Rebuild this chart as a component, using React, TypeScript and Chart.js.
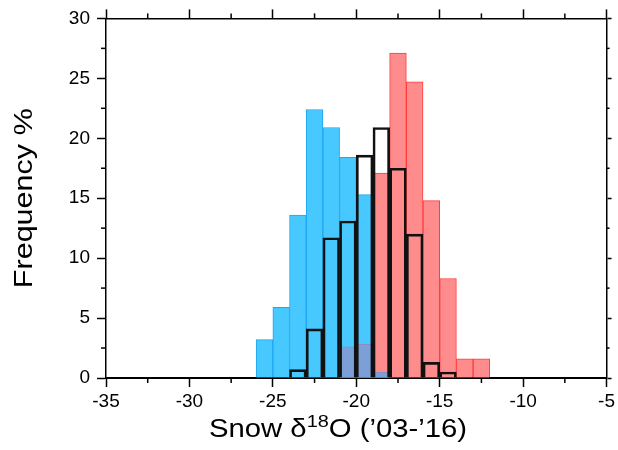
import { useEffect, useRef } from "react";
import { Chart, registerables } from "chart.js";

Chart.register(...registerables);

// ---- data ----
const binStarts = [-26, -25, -24, -23, -22, -21, -20, -19, -18, -17, -16, -15, -14, -13];
const binWidth = 1;
const blueFreq = [3.2, 5.9, 13.6, 22.4, 20.9, 18.4, 15.3, 0.5, 0, 0, 0, 0, 0, 0];
const redFreq = [0, 0, 0, 0, 0, 2.6, 2.8, 17.1, 27.1, 24.7, 14.8, 8.3, 1.6, 1.6];
const blackFreq = [0, 0, 0.7, 4.1, 11.7, 13.1, 18.6, 20.9, 17.5, 12.0, 1.3, 0.5, 0, 0];
const xTicks = [-35, -30, -25, -20, -15, -10, -5];
const yTicks = [0, 5, 10, 15, 20, 25, 30];
const yTitle = "Frequency %";
const xTitleParts = ["Snow δ", "18", "O (\u201903-\u201916)"];

const FONT = '"Liberation Sans", Arial, Helvetica, sans-serif';

const toPoints = (vals: number[]) =>
  binStarts.map((b, i) => ({ x: b + binWidth / 2, y: vals[i] > 0 ? vals[i] : null }));

const overlapFreq = blueFreq.map((b, i) => (b > 0 && redFreq[i] > 0 ? Math.min(b, redFreq[i]) : 0));

const decorPlugin = {
  id: "decor",
  afterDraw(chart: any) {
    const { ctx, chartArea: a, scales } = chart;
    ctx.save();
    ctx.strokeStyle = "#000";
    ctx.lineWidth = 1.5;
    const line = (x1: number, y1: number, x2: number, y2: number) => {
      ctx.beginPath();
      ctx.moveTo(x1, y1);
      ctx.lineTo(x2, y2);
      ctx.stroke();
    };
    for (let i = 0; i < xTicks.length - 1; i++) {
      const px = scales.x.getPixelForValue((xTicks[i] + xTicks[i + 1]) / 2);
      line(px, a.bottom, px, a.bottom + 5);
      line(px, a.top, px, a.top - 5);
    }
    for (let i = 0; i < yTicks.length - 1; i++) {
      const py = scales.y.getPixelForValue((yTicks[i] + yTicks[i + 1]) / 2);
      line(a.left, py, a.left - 5, py);
      line(a.right, py, a.right + 3, py);
    }
    ctx.restore();

    // y title
    ctx.save();
    ctx.fillStyle = "#000";
    ctx.font = `26px ${FONT}`;
    const wy = ctx.measureText(yTitle).width;
    ctx.translate(32, (a.top + a.bottom) / 2);
    ctx.rotate(-Math.PI / 2);
    ctx.scale(180 / wy, 1);
    ctx.textAlign = "center";
    ctx.textBaseline = "alphabetic";
    ctx.fillText(yTitle, 0, 0);
    ctx.restore();

    // x title with superscript
    ctx.save();
    ctx.fillStyle = "#000";
    ctx.textBaseline = "alphabetic";
    ctx.textAlign = "left";
    const fonts = [`25px ${FONT}`, `17px ${FONT}`, `25px ${FONT}`];
    const dys = [0, -10, 0];
    const widths = xTitleParts.map((t, i) => {
      ctx.font = fonts[i];
      return ctx.measureText(t).width;
    });
    const total = widths.reduce((s, w) => s + w, 0);
    ctx.translate(209, 437);
    ctx.scale(258 / total, 1);
    let x = 0;
    xTitleParts.forEach((t, i) => {
      ctx.font = fonts[i];
      ctx.fillText(t, x, dys[i]);
      x += widths[i];
    });
    ctx.restore();
  },
};

export default function App() {
  const ref = useRef<HTMLCanvasElement | null>(null);

  useEffect(() => {
    if (!ref.current) return;
    const tickFont = { family: FONT, size: 19, lineHeight: 1.2 };
    const chart = new Chart(ref.current, {
      type: "bar",
      data: {
        datasets: [
          {
            label: "outline",
            data: toPoints(blackFreq),
            backgroundColor: "rgba(0,0,0,0)",
            borderColor: "#111",
            borderWidth: 2,
            grouped: false,
            order: 0,
          } as any,
          {
            label: "overlap",
            data: toPoints(overlapFreq),
            backgroundColor: "#7b9fd6",
            borderColor: "#8c8cc8",
            borderWidth: 1,
            grouped: false,
            order: 1,
          },
          {
            label: "blue",
            data: toPoints(blueFreq),
            backgroundColor: "#47c8ff",
            borderColor: "#1ea6f5",
            borderWidth: 1,
            grouped: false,
            order: 2,
          },
          {
            label: "red",
            data: toPoints(redFreq),
            backgroundColor: "#ff8c8c",
            borderColor: "#ff3c3c",
            borderWidth: 1,
            grouped: false,
            order: 3,
          },
        ],
      },
      options: {
        animation: false,
        responsive: false,
        events: [],
        layout: { padding: 0 },
        datasets: { bar: { barPercentage: 1, categoryPercentage: 1 } },
        plugins: { legend: { display: false }, tooltip: { enabled: false }, title: { display: false } },
        scales: {
          x: {
            type: "linear",
            position: "bottom",
            offset: false,
            min: xTicks[0],
            max: xTicks[xTicks.length - 1],
            ticks: { stepSize: xTicks[1] - xTicks[0], font: tickFont, color: "#000", padding: 3, autoSkip: false, maxRotation: 0 },
            grid: { offset: false, drawOnChartArea: false, drawTicks: true, tickLength: 9, tickColor: "#000", tickWidth: 1.5 },
            border: { display: true, color: "#000", width: 2 },
            afterFit: (s: any) => { s.height = 72; },
          },
          x2: {
            type: "linear",
            position: "top",
            offset: false,
            min: xTicks[0],
            max: xTicks[xTicks.length - 1],
            ticks: { stepSize: xTicks[1] - xTicks[0], display: false },
            grid: { offset: false, drawOnChartArea: false, drawTicks: true, tickLength: 9, tickColor: "#000", tickWidth: 1.5 },
            border: { display: true, color: "#000", width: 1.5 },
            afterFit: (s: any) => { s.height = 18; },
          },
          y: {
            type: "linear",
            position: "left",
            min: yTicks[0],
            max: yTicks[yTicks.length - 1],
            ticks: { stepSize: yTicks[1] - yTicks[0], font: tickFont, color: "#000", padding: 7, autoSkip: false },
            grid: { drawOnChartArea: false, drawTicks: true, tickLength: 9, tickColor: "#000", tickWidth: 1.5 },
            border: { display: true, color: "#000", width: 1.5 },
            afterFit: (s: any) => { s.width = 106; },
          },
          y2: {
            type: "linear",
            position: "right",
            min: yTicks[0],
            max: yTicks[yTicks.length - 1],
            ticks: { stepSize: yTicks[1] - yTicks[0], display: false },
            grid: { drawOnChartArea: false, drawTicks: true, tickLength: 5, tickColor: "#000", tickWidth: 1.5 },
            border: { display: true, color: "#000", width: 1.5 },
            afterFit: (s: any) => { s.width = 10; },
          },
        },
      } as any,
      plugins: [decorPlugin],
    });
    return () => chart.destroy();
  }, []);

  return (
    <div style={{ position: "absolute", left: 0, top: 0, width: 618, height: 450, background: "#fff" }}>
      <canvas ref={ref} width={618} height={450} />
    </div>
  );
}
